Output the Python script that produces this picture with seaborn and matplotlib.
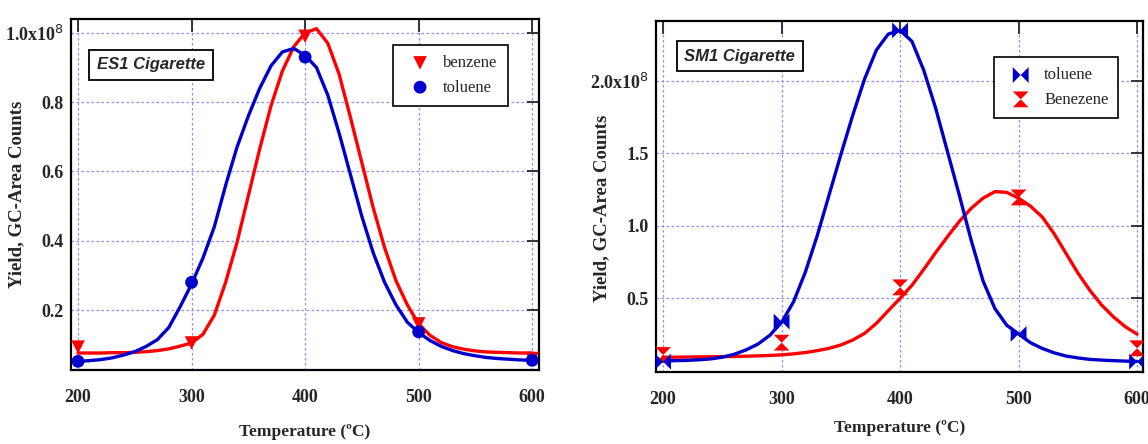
import numpy as np
import pandas as pd
import seaborn as sns
import matplotlib.pyplot as plt
from matplotlib.markers import MarkerStyle

# temperatures of the measured points and of the fitted curves
temps = [200, 300, 400, 500, 600]
curve_t = list(range(200, 601, 10))

# ES1 cigarette (x1e8)
es1_benzene_pts = [0.093, 0.105, 0.99, 0.16, 0.06]
es1_toluene_pts = [0.052, 0.28, 0.93, 0.137, 0.055]
es1_benzene_fit = [0.076, 0.076, 0.076, 0.077, 0.077, 0.078, 0.080, 0.083, 0.088, 0.096,
                   0.105, 0.130, 0.185, 0.280, 0.395, 0.530, 0.665, 0.790, 0.890, 0.960,
                   1.000, 1.012, 0.970, 0.880, 0.755, 0.625, 0.495, 0.380, 0.285, 0.215,
                   0.160, 0.127, 0.106, 0.094, 0.087, 0.082, 0.079, 0.078, 0.077, 0.076, 0.076]
es1_toluene_fit = [0.052, 0.054, 0.057, 0.062, 0.070, 0.080, 0.095, 0.115, 0.150, 0.210,
                   0.275, 0.350, 0.440, 0.560, 0.670, 0.760, 0.840, 0.905, 0.945, 0.955,
                   0.935, 0.900, 0.820, 0.710, 0.590, 0.470, 0.365, 0.280, 0.215, 0.165,
                   0.135, 0.112, 0.095, 0.083, 0.074, 0.068, 0.063, 0.060, 0.058, 0.056, 0.055]

# SM1 cigarette (x1e8)
sm1_toluene_pts = [0.064, 0.34, 2.345, 0.255, 0.064]
sm1_benzene_pts = [0.11, 0.195, 0.576, 1.195, 0.156]
sm1_toluene_fit = [0.070, 0.071, 0.073, 0.077, 0.083, 0.095, 0.115, 0.145, 0.185, 0.245,
                   0.335, 0.475, 0.680, 0.930, 1.210, 1.490, 1.760, 2.010, 2.210, 2.320,
                   2.345, 2.270, 2.070, 1.810, 1.510, 1.210, 0.900, 0.620, 0.430, 0.315,
                   0.255, 0.195, 0.155, 0.125, 0.103, 0.090, 0.080, 0.075, 0.071, 0.068, 0.066]
sm1_benzene_fit = [0.095, 0.095, 0.096, 0.097, 0.098, 0.099, 0.100, 0.102, 0.104, 0.107,
                   0.111, 0.118, 0.127, 0.140, 0.156, 0.179, 0.213, 0.259, 0.328, 0.415,
                   0.500, 0.590, 0.700, 0.815, 0.925, 1.030, 1.120, 1.190, 1.235, 1.230,
                   1.190, 1.135, 1.060, 0.945, 0.810, 0.675, 0.557, 0.455, 0.373, 0.305, 0.254]

sns.set_style('white')
plt.rcParams['font.family'] = ['Liberation Serif', 'DejaVu Serif']

bowtie = MarkerStyle([(-1, -1), (-1, 1), (1, -1), (1, 1), (-1, -1)])
hourglass = MarkerStyle([(-1, 1), (1, 1), (-1, -1), (1, -1), (-1, 1)])

fig = plt.figure(figsize=(11.48, 4.44), dpi=100)
ax1 = fig.add_axes([71/1148, 74/444, 468/1148, 351/444])
ax2 = fig.add_axes([656/1148, 72/444, 487/1148, 351/444])

grid_col = '#8c8cff'
line_kw = dict(linewidth=2.4, solid_joinstyle='round', solid_capstyle='round')


def style_axes(ax, yticks, ylabels, xlim, ylim):
    ax.set_xlim(*xlim)
    ax.set_ylim(*ylim)
    ax.set_xticks(temps)
    ax.set_yticks(yticks)
    ax.set_yticklabels(ylabels)
    ax.grid(True, color=grid_col, linestyle=(0, (2, 2)), linewidth=0.9)
    ax.tick_params(direction='in', length=9, width=1.3, top=True, right=True,
                   labelsize=13)
    ax.tick_params(axis='x', pad=14)
    ax.tick_params(axis='y', pad=5)
    for lab in ax.get_xticklabels() + ax.get_yticklabels():
        lab.set_fontweight('bold')
    for s in ax.spines.values():
        s.set_color('black')
        s.set_linewidth(1.6)
    ax.set_xlabel('Temperature (ºC)', fontsize=12.5, fontweight='bold')
    ax.set_ylabel('Yield, GC-Area Counts', fontsize=13.5, fontweight='bold')


# ---- ES1
sns.lineplot(x=curve_t, y=es1_benzene_fit, ax=ax1, color='#ff0000', **line_kw)
sns.lineplot(x=curve_t, y=es1_toluene_fit, ax=ax1, color='#0000cc', **line_kw)
sns.scatterplot(x=temps, y=es1_benzene_pts, ax=ax1, marker='v', color='#ff0000',
                s=95, edgecolor='none', label='benzene', zorder=3)
sns.scatterplot(x=temps, y=es1_toluene_pts, ax=ax1, marker='o', color='#0000cc',
                s=85, edgecolor='none', label='toluene', zorder=4)
style_axes(ax1, [0.2, 0.4, 0.6, 0.8, 1.0],
           ['0.2', '0.4', '0.6', '0.8', r'1.0x10$^{8}$'],
           (193.8, 606), (0.027, 1.04))
ax1.xaxis.set_label_coords(0.5, -0.155)
ax1.yaxis.set_label_coords(-0.098, 0.5)
ax1.text(0.171, 0.869, 'ES1 Cigarette', transform=ax1.transAxes, ha='center', va='center',
         fontsize=12, fontweight='bold', style='italic', family='Liberation Sans',
         bbox=dict(boxstyle='square,pad=0.45', fc='white', ec='black', lw=1.3), zorder=5)
ax1.legend(loc='upper left', bbox_to_anchor=(0.671, 0.949), fontsize=12,
           frameon=True, fancybox=False, edgecolor='black', framealpha=1,
           handletextpad=0.4, borderpad=0.6, labelspacing=0.5).get_frame().set_linewidth(1.2)

# ---- SM1
sns.lineplot(x=curve_t, y=sm1_benzene_fit, ax=ax2, color='#ff0000', **line_kw)
sns.lineplot(x=curve_t, y=sm1_toluene_fit, ax=ax2, color='#0000cc', **line_kw)
sns.scatterplot(x=temps, y=sm1_toluene_pts, ax=ax2, marker=bowtie, color='#0000cc',
                s=130, edgecolor='none', label='toluene', zorder=4)
sns.scatterplot(x=temps, y=sm1_benzene_pts, ax=ax2, marker=hourglass, color='#ff0000',
                s=130, edgecolor='none', label='Benezene', zorder=3)
style_axes(ax2, [0.5, 1.0, 1.5, 2.0],
           ['0.5', '1.0', '1.5', r'2.0x10$^{8}$'],
           (194, 605), (-0.007, 2.41))
ax2.xaxis.set_label_coords(0.5, -0.137)
ax2.yaxis.set_label_coords(-0.094, 0.467)
ax2.text(0.172, 0.899, 'SM1 Cigarette', transform=ax2.transAxes, ha='center', va='center',
         fontsize=12, fontweight='bold', style='italic', family='Liberation Sans',
         bbox=dict(boxstyle='square,pad=0.45', fc='white', ec='black', lw=1.3), zorder=5)
ax2.legend(loc='upper left', bbox_to_anchor=(0.677, 0.92), fontsize=12,
           frameon=True, fancybox=False, edgecolor='black', framealpha=1,
           handletextpad=0.4, borderpad=0.6, labelspacing=0.5).get_frame().set_linewidth(1.2)

fig.savefig('out.png', dpi=100)
